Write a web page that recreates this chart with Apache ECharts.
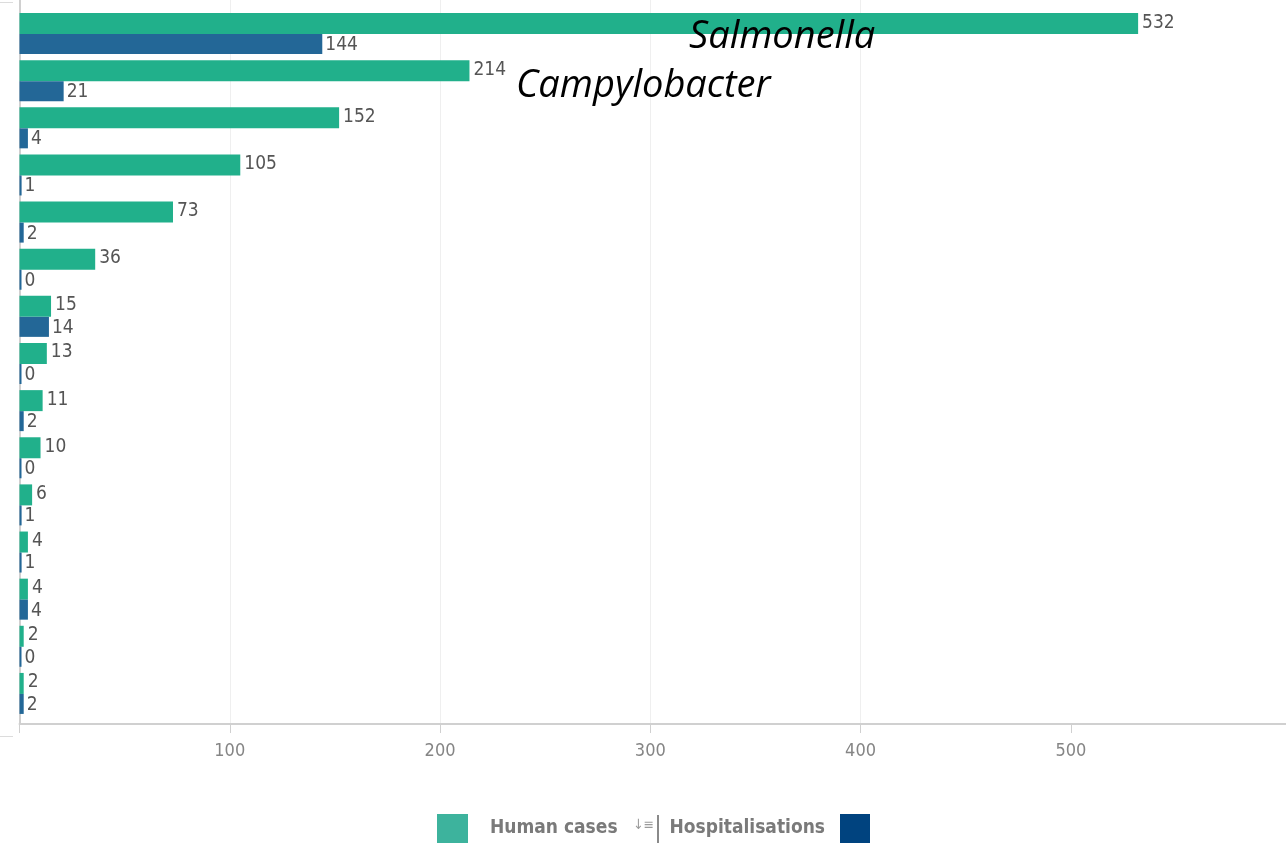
<!DOCTYPE html>
<html>
<head>
<meta charset="utf-8">
<script src="https://cdn.jsdelivr.net/npm/echarts@6/dist/echarts.min.js"></script>
<style>
  html, body { margin: 0; padding: 0; background: #fff; }
  #chart { width: 1286px; height: 844px; }
</style>
</head>
<body>
<div id="chart"></div>
<script>
// Foodborne outbreak agents: reported human cases and hospitalisations
const agents = ['Salmonella', 'Campylobacter', 'Agent 3', 'Agent 4', 'Agent 5',
  'Agent 6', 'Agent 7', 'Agent 8', 'Agent 9', 'Agent 10', 'Agent 11',
  'Agent 12', 'Agent 13', 'Agent 14', 'Agent 15'];
const humanCases = [532, 214, 152, 105, 73, 36, 15, 13, 11, 10, 6, 4, 4, 2, 2];
const hospitalisations = [144, 21, 4, 1, 2, 0, 14, 0, 2, 0, 1, 1, 4, 0, 2];
const xTicks = [0, 100, 200, 300, 400, 500];
const xTickLabels = [100, 200, 300, 400, 500];

const NARROW = "'DejaVu Sans Condensed', 'Liberation Sans Narrow', 'Roboto', sans-serif";
const GREEN = '#21b08b';
const BLUE = '#236797';
const X_MAX = 599;

const chart = echarts.init(document.getElementById('chart'), null, { renderer: 'canvas' });

chart.setOption({
  animation: false,
  backgroundColor: '#ffffff',
  grid: [
    // frame grid: axis lines, ticks, split lines
    { left: 19.5, right: 7, top: 0, height: 724 },
    // bar grid
    { left: 19.5, right: 7, top: 10, height: 707 }
  ],
  xAxis: [
    {
      gridIndex: 0, type: 'value', min: 0, max: X_MAX, interval: 100,
      axisLine: { show: true, lineStyle: { color: '#d0d0d0', width: 2 } },
      axisTick: { show: true, length: 9, customValues: xTicks,
        lineStyle: { color: '#d0d0d0', width: 1 } },
      axisLabel: {
        customValues: xTickLabels, margin: 18,
        color: '#858585', fontFamily: NARROW, fontSize: 18
      },
      splitLine: { show: true, showMaxLine: false, lineStyle: { color: '#efefef', width: 1 } }
    },
    {
      gridIndex: 1, type: 'value', min: 0, max: X_MAX, interval: 100,
      show: false, splitLine: { show: false }
    }
  ],
  yAxis: [
    {
      gridIndex: 0, type: 'value', min: 0, max: 1,
      axisLine: { show: true, lineStyle: { color: '#d0d0d0', width: 2 } },
      axisTick: { show: false }, axisLabel: { show: false }, splitLine: { show: false }
    },
    {
      gridIndex: 1, type: 'category', data: agents, inverse: true,
      show: false
    }
  ],
  legend: [
    {
      data: [{ name: 'Human cases', itemStyle: { color: '#3db39d' } }],
      left: 437, top: 814, padding: 0,
      itemWidth: 31, itemHeight: 29, icon: 'rect',
      selectedMode: false,
      textStyle: { color: '#7a7a7a', fontFamily: NARROW, fontWeight: 'bold', fontSize: 19,
        padding: [2, 0, 0, 17] }
    },
    {
      data: [{ name: 'Hospitalisations', itemStyle: { color: '#00437f' } }],
      right: 416, top: 814, padding: 0, align: 'right',
      itemWidth: 30, itemHeight: 29, icon: 'rect',
      selectedMode: false,
      textStyle: { color: '#7a7a7a', fontFamily: NARROW, fontWeight: 'bold', fontSize: 19,
        padding: [2, 10, 0, 0] }
    }
  ],
  graphic: [
    // sort indicator and separator between the legend entries
    { type: 'text', left: 633, top: 818,
      style: { text: '↓≡', fill: '#9a9a9a', font: '14px ' + NARROW } },
    { type: 'line', shape: { x1: 658, y1: 815, x2: 658, y2: 843 },
      style: { stroke: '#8a8a8a', lineWidth: 2 } },
    // x axis line runs on to the right edge
    { type: 'line', shape: { x1: 1279, y1: 724, x2: 1286, y2: 724 },
      style: { stroke: '#d0d0d0', lineWidth: 2 } },
    // short rules at the left margin
    { type: 'line', shape: { x1: 0, y1: 2.5, x2: 13, y2: 2.5 },
      style: { stroke: '#dcdcdc', lineWidth: 1 } },
    { type: 'line', shape: { x1: 0, y1: 736.5, x2: 13, y2: 736.5 },
      style: { stroke: '#dcdcdc', lineWidth: 1 } },
    // agent annotations
    { type: 'text', left: 689, top: 18.5, z: 100,
      style: { text: agents[0], fill: '#000', font: "italic 38px 'Open Sans', sans-serif" } },
    { type: 'text', left: 516, top: 67.5, z: 100,
      style: { text: agents[1], fill: '#000', font: "italic 38px 'Open Sans', sans-serif" } }
  ],
  series: [
    {
      name: 'Human cases', type: 'bar', xAxisIndex: 1, yAxisIndex: 1,
      data: humanCases, barWidth: 21, barGap: '0%', barMinHeight: 2,
      itemStyle: { color: GREEN },
      label: { show: true, position: 'right', distance: 4, color: '#555',
        fontFamily: NARROW, fontSize: 19, offset: [0, -1] }
    },
    {
      name: 'Hospitalisations', type: 'bar', xAxisIndex: 1, yAxisIndex: 1,
      data: hospitalisations, barWidth: 20, barGap: '0%', barMinHeight: 2,
      itemStyle: { color: BLUE },
      label: { show: true, position: 'right', distance: 3, color: '#555',
        fontFamily: NARROW, fontSize: 19, offset: [0, 1] }
    }
  ]
});
</script>
</body>
</html>
